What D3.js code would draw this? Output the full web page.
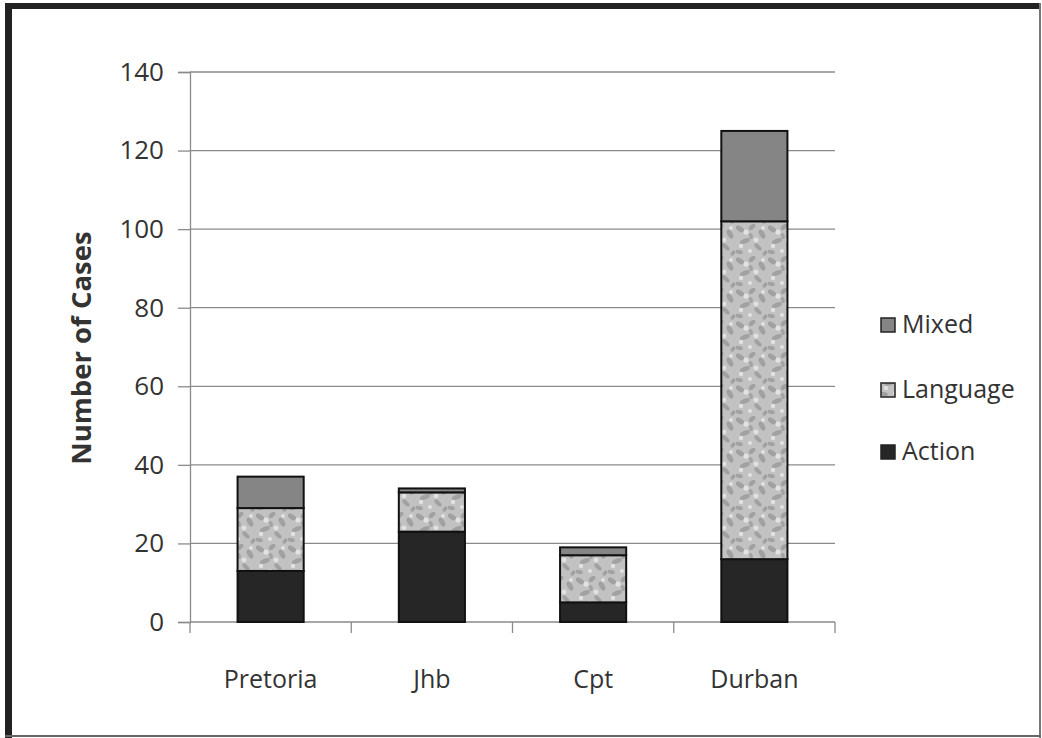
<!DOCTYPE html>
<html>
<head>
<meta charset="utf-8">
<script src="https://cdn.jsdelivr.net/npm/d3@7"></script>
<style>
  body { margin: 0; background: #fff; }
  text { font-family: "Open Sans", "Noto Sans", sans-serif; fill: #333; }
</style>
</head>
<body>
<svg id="chart" width="1042" height="738"></svg>
<script>
// data
var cities = ["Pretoria", "Jhb", "Cpt", "Durban"];
var action = [13, 23, 5, 16];
var language = [16, 10, 12, 86];
var mixed = [8, 1, 2, 23];
var seriesNames = ["Action", "Language", "Mixed"];
var yTicks = [0, 20, 40, 60, 80, 100, 120, 140];

var svg = d3.select("#chart");

// frame round the picture
svg.append("rect").attr("x", 5).attr("y", 3).attr("width", 1036).attr("height", 6).attr("fill", "#222");
svg.append("rect").attr("x", 5).attr("y", 3).attr("width", 7).attr("height", 735).attr("fill", "#222");
svg.append("rect").attr("x", 1039).attr("y", 3).attr("width", 2).attr("height", 735).attr("fill", "#777");
svg.append("rect").attr("x", 5).attr("y", 735).attr("width", 1036).attr("height", 2).attr("fill", "#666");

// blotchy fill for the Language series
var defs = svg.append("defs");
var pat = defs.append("pattern").attr("id", "speckle")
  .attr("patternUnits", "userSpaceOnUse").attr("width", 32).attr("height", 32);
pat.append("rect").attr("width", 32).attr("height", 32).attr("fill", "#c2c2c2");
var blobs = [[4, 5, 5, 2.5, 30], [16, 3, 4, 2.2, -40], [26, 10, 5, 2.6, 60], [9, 17, 5.5, 2.4, -20],
             [22, 23, 4.5, 2.2, 45], [3, 28, 4, 2, 10], [29, 29, 3, 1.8, -50], [15, 12, 3, 1.8, 80]];
pat.selectAll("ellipse").data(blobs).enter().append("ellipse")
  .attr("cx", function(d) { return d[0]; })
  .attr("cy", function(d) { return d[1]; })
  .attr("rx", function(d) { return d[2]; })
  .attr("ry", function(d) { return d[3]; })
  .attr("transform", function(d) { return "rotate(" + d[4] + "," + d[0] + "," + d[1] + ")"; })
  .attr("fill", "#959595").attr("opacity", 0.75);
var lights = [[10, 8, 2.6], [20, 16, 2.4], [5, 22, 2.2], [27, 4, 2], [14, 27, 2]];
pat.selectAll("circle").data(lights).enter().append("circle")
  .attr("cx", function(d) { return d[0]; })
  .attr("cy", function(d) { return d[1]; })
  .attr("r", function(d) { return d[2]; })
  .attr("fill", "#e2e2e2");

var colors = { "Action": "#262626", "Language": "url(#speckle)", "Mixed": "#858585" };

var x = d3.scaleBand().domain(cities).range([190, 835]).padding(0);
var y = d3.scaleLinear().domain([0, 140]).range([622, 72]);

// gridlines
svg.append("g").selectAll("line").data(yTicks.slice(1)).enter().append("line")
  .attr("x1", 190).attr("x2", 835)
  .attr("y1", function(d) { return y(d); }).attr("y2", function(d) { return y(d); })
  .attr("stroke", "#8a8a8a").attr("stroke-width", 1.3);

// y axis
var yAxis = svg.append("g").attr("transform", "translate(190,0)")
  .call(d3.axisLeft(y).tickValues(yTicks).tickSize(12).tickPadding(14));
yAxis.select(".domain").attr("stroke", "#8a8a8a").attr("stroke-width", 1.3);
yAxis.selectAll(".tick line").attr("stroke", "#8a8a8a").attr("stroke-width", 1.3);
yAxis.selectAll(".tick text").style("font-size", "26px").attr("fill", "#333");

// x axis line and band ticks
svg.append("line").attr("x1", 190).attr("x2", 835).attr("y1", 622).attr("y2", 622)
  .attr("stroke", "#8a8a8a").attr("stroke-width", 1.3);
var bounds = cities.map(function(c) { return x(c); }).concat([835]);
svg.append("g").selectAll("line").data(bounds).enter().append("line")
  .attr("x1", function(d) { return d; }).attr("x2", function(d) { return d; })
  .attr("y1", 622).attr("y2", 633)
  .attr("stroke", "#8a8a8a").attr("stroke-width", 1.3);

svg.append("g").selectAll("text").data(cities).enter().append("text")
  .attr("x", function(d) { return x(d) + x.bandwidth() / 2; })
  .attr("y", 688)
  .attr("text-anchor", "middle")
  .style("font-size", "25px")
  .text(function(d) { return d; });

// stacked bars
var rows = cities.map(function(c, i) {
  return { city: c, Action: action[i], Language: language[i], Mixed: mixed[i] };
});
var stacked = d3.stack().keys(seriesNames)(rows);
var barW = x.bandwidth() * 0.41;

svg.append("g").selectAll("g").data(stacked).enter().append("g")
  .attr("fill", function(d) { return colors[d.key]; })
  .selectAll("rect").data(function(d) { return d; }).enter().append("rect")
  .attr("x", function(d) { return x(d.data.city) + (x.bandwidth() - barW) / 2; })
  .attr("y", function(d) { return y(d[1]); })
  .attr("width", barW)
  .attr("height", function(d) { return y(d[0]) - y(d[1]); })
  .attr("stroke", "#111").attr("stroke-width", 2);

// y title
svg.append("text")
  .attr("transform", "translate(91,348) rotate(-90)")
  .attr("text-anchor", "middle")
  .style("font-size", "27.5px").style("font-weight", "bold")
  .attr("fill", "#222")
  .text("Number of Cases");

// legend
var legendOrder = ["Mixed", "Language", "Action"];
var legendY = [333, 398, 460];
var lg = svg.append("g").selectAll("g").data(legendOrder).enter().append("g")
  .attr("transform", function(d, i) { return "translate(881," + legendY[i] + ")"; });
lg.append("rect").attr("x", 0).attr("y", -15).attr("width", 14).attr("height", 14)
  .attr("fill", function(d) { return colors[d]; })
  .attr("stroke", "#222").attr("stroke-width", 1.5);
lg.append("text").attr("x", 21).attr("y", 0)
  .style("font-size", "25px")
  .text(function(d) { return d; });
</script>
</body>
</html>
